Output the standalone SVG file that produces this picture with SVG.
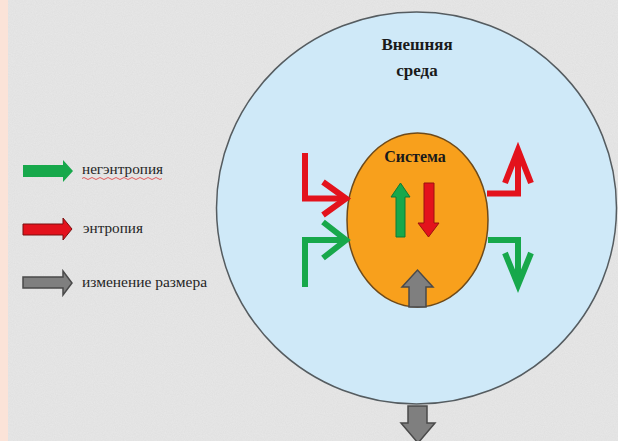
<svg xmlns="http://www.w3.org/2000/svg" width="618" height="441" viewBox="0 0 618 441">
  <defs>
    <filter id="noise" x="0" y="0" width="100%" height="100%">
      <feTurbulence type="fractalNoise" baseFrequency="0.9" numOctaves="2" seed="3" result="n"/>
      <feColorMatrix type="matrix" values="0 0 0 0 0.55  0 0 0 0 0.55  0 0 0 0 0.55  0 0 0 0.25 0" in="n" result="g"/>
      <feComposite in="g" in2="SourceGraphic" operator="in"/>
    </filter>
    <style>
      text { font-family: "Liberation Serif", "Times New Roman", serif; }
      .lbl { font-size: 15px; fill: #262626; }
      .ttl { font-size: 17px; font-weight: bold; fill: #1a1a1a; text-anchor: middle; }
      .red { fill: none; stroke: #e3121c; stroke-width: 6; stroke-linejoin: miter; stroke-linecap: butt; }
      .grn { fill: none; stroke: #17a84b; stroke-width: 6; stroke-linejoin: miter; stroke-linecap: butt; }
      .redf { fill: #e3121c; stroke: #9a1010; stroke-width: 1; }
      .grnf { fill: #17a84b; stroke: #0f7a35; stroke-width: 1; }
      .gryf { fill: #7f7f7f; stroke: #4a4a4a; stroke-width: 1.5; }
    </style>
  </defs>

  <!-- background -->
  <rect x="0" y="0" width="618" height="441" fill="#e8e8e8"/>
  <rect x="0" y="0" width="618" height="441" fill="#e8e8e8" filter="url(#noise)"/>
  <rect x="0" y="0" width="8" height="441" fill="#fbe3d8"/>

  <!-- outer environment -->
  <g id="environment">
    <ellipse cx="416.5" cy="208" rx="200" ry="196" fill="#cfe9f8" stroke="#555c60" stroke-width="1.5"/>
    <text class="ttl" x="417" y="50" font-family="Liberation Serif, serif">Внешняя</text>
    <text class="ttl" x="417" y="76" font-family="Liberation Serif, serif">среда</text>
  </g>

  <!-- system -->
  <g id="system">
    <ellipse cx="417.5" cy="220" rx="70.5" ry="87" fill="#f8a01c" stroke="#6e4a1a" stroke-width="1.5"/>
    <text class="ttl" x="415" y="162" font-family="Liberation Serif, serif" style="font-size:16px">Система</text>
  </g>

  <!-- connectors -->
  <g id="connectors">
    <!-- internal arrows -->
    <path class="grnf" d="M396,237 V197 H391 L400.5,183 L410,197 H405 V237 Z"/>
    <path class="redf" d="M424,183 V223 H418 L428.5,237 L439,223 H434 V183 Z"/>
    <!-- size change arrow inside system -->
    <path class="gryf" d="M409,307 V287 H402 L417.5,270 L433,287 H426 V307 Z"/>

    <!-- left red (entropy in) -->
    <path class="red" d="M305,153 V198.5 H346"/>
    <path class="red" d="M323,182 L346,198.5 L323,215"/>
    <!-- left green (negentropy in) -->
    <path class="grn" d="M305,287 V240 H346"/>
    <path class="grn" d="M323,222 L346,240 L323,258"/>

    <!-- right red (entropy out) -->
    <path class="red" d="M487,193.5 H518 V150"/>
    <path class="red" d="M505,183 L518,150 L531,183"/>
    <!-- right green (negentropy out) -->
    <path class="grn" d="M488,240 H518 V285"/>
    <path class="grn" d="M505,253 L518,285 L531,253"/>

    <!-- bottom size change arrow -->
    <path class="gryf" d="M408,406 V423 H401 L418,443 L435,423 H427 V406 Z"/>
  </g>

  <!-- legend -->
  <g id="legend-negentropy">
    <path d="M23,165 H63 V160 L73,171 L63,182 V177 H23 Z" fill="#17a84b"/>
    <text class="lbl" x="82" y="174" font-family="Liberation Serif, serif" textLength="81" lengthAdjust="spacingAndGlyphs">негэнтропия</text>
    <path d="M82,178.5 q2,-2 4,0 t4,0 t4,0 t4,0 t4,0 t4,0 t4,0 t4,0 t4,0 t4,0 t4,0 t4,0 t4,0 t4,0 t4,0 t4,0 t4,0 t4,0 t4,0 t4,0" fill="none" stroke="#e0393a" stroke-width="0.8"/>
  </g>
  <g id="legend-entropy">
    <path class="redf" d="M23,224 H63 V218 L72,229 L63,240 V235 H23 Z" style="stroke:#7a0f0f"/>
    <text class="lbl" x="83" y="233" font-family="Liberation Serif, serif" textLength="60" lengthAdjust="spacingAndGlyphs">энтропия</text>
  </g>
  <g id="legend-size">
    <path class="gryf" d="M23,277 H63 V271 L72,283 L63,295 V288 H23 Z"/>
    <text class="lbl" x="82" y="287" font-family="Liberation Serif, serif" textLength="125" lengthAdjust="spacingAndGlyphs">изменение размера</text>
  </g>
</svg>
